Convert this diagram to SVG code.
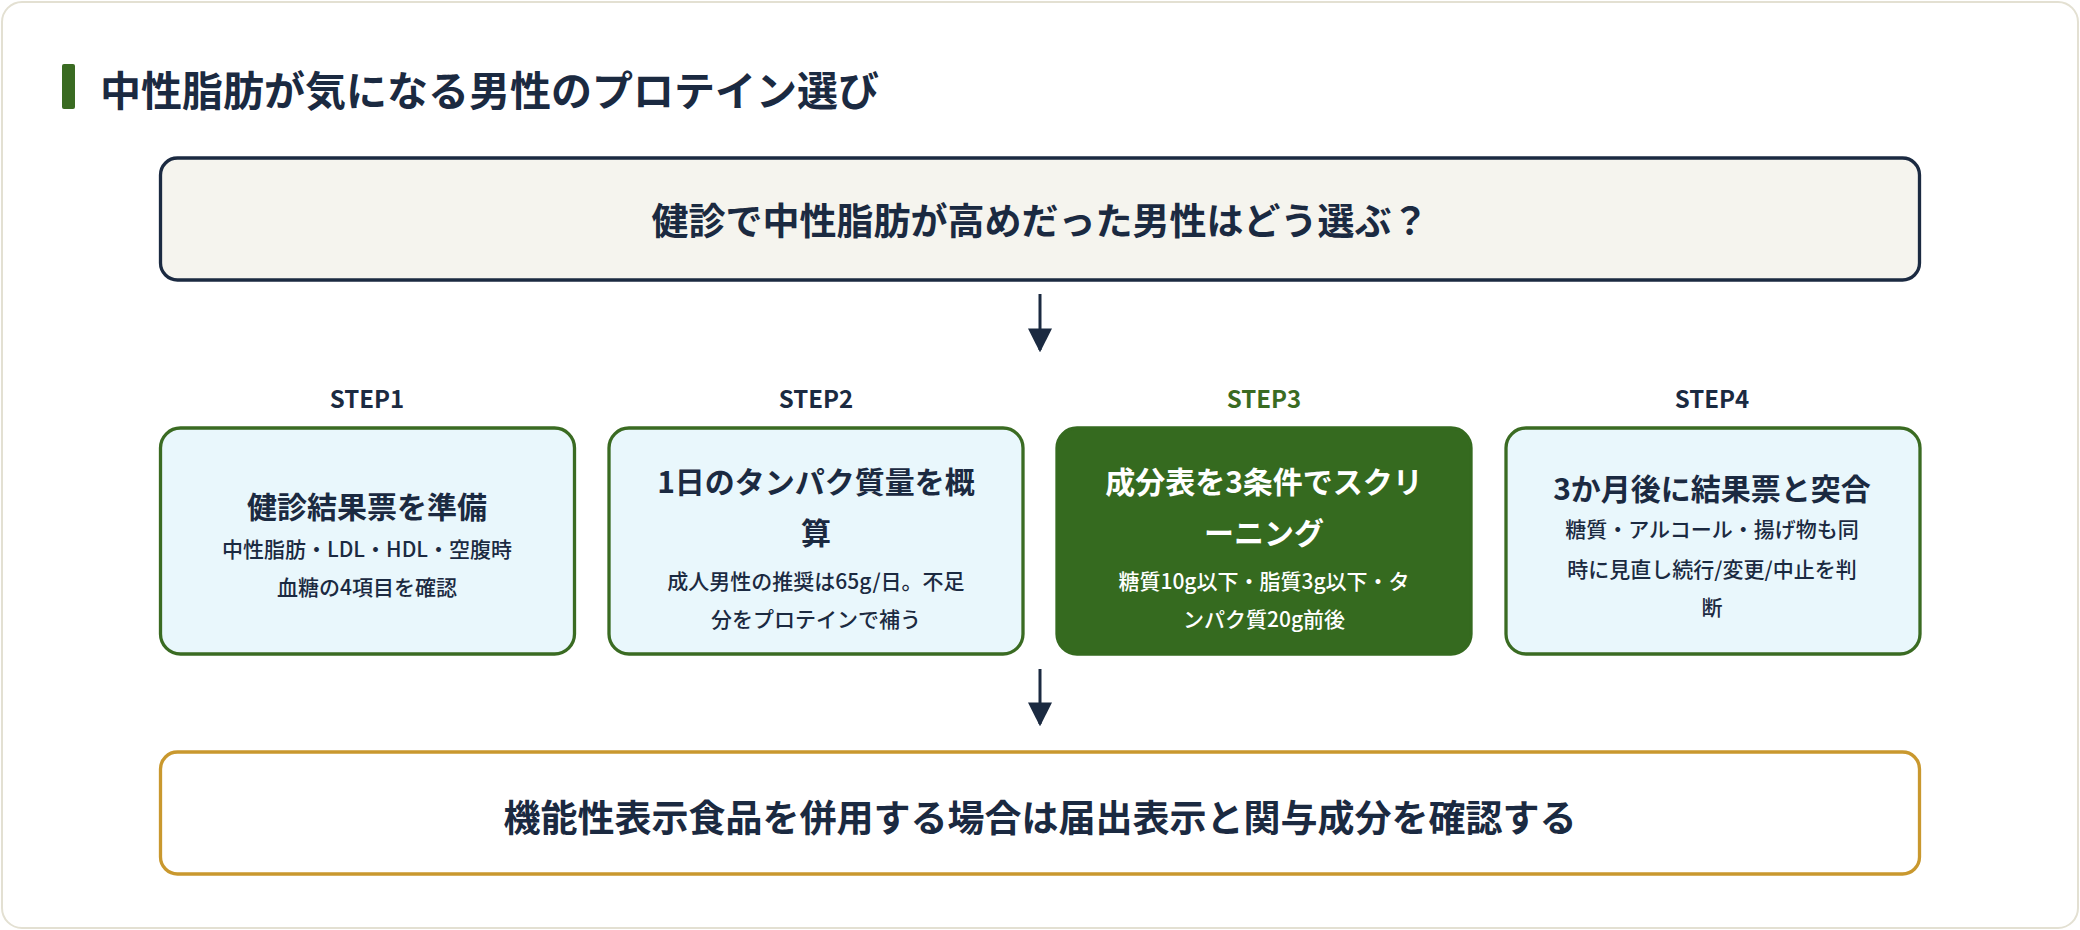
<svg xmlns="http://www.w3.org/2000/svg" width="2080" height="930" viewBox="0 0 2080 930">
<defs>
<style>
text{font-family:"Noto Sans CJK JP","Noto Sans",sans-serif;text-anchor:middle;dominant-baseline:central;fill:#1b2a41}
.t{font-weight:700}
.step{font-size:24px;font-weight:700}
.bt{font-size:30px;font-weight:700}
.bs{font-size:21px;font-weight:500}
.box{fill:#e9f7fc;stroke:#3a6b22;stroke-width:3.3}
.w{fill:#ffffff}
</style>
<marker id="ah" viewBox="0 0 10 10" refX="9" refY="5" markerWidth="9" markerHeight="9" markerUnits="userSpaceOnUse" orient="auto"><path d="M0,0L10,5L0,10z" fill="#1b2a41"/></marker>
<marker id="ah2" viewBox="0 0 10 10" refX="9" refY="5" markerWidth="8" markerHeight="9" orient="auto"><path d="M0,0L10,5L0,10z" fill="#1b2a41"/></marker>
</defs>
<rect x="2" y="2" width="2076" height="926" rx="20" fill="#ffffff" stroke="#e3e0d2" stroke-width="2"/>
<g id="title">
<rect x="62" y="64" width="13" height="45" rx="2" fill="#3a6b22"/>
<text x="100" y="88" class="t" style="text-anchor:start;font-size:41px">中性脂肪が気になる男性のプロテイン選び</text>
</g>
<g id="question">
<rect x="160.5" y="158" width="1759" height="122" rx="17" fill="#f5f4ee" stroke="#1b2a41" stroke-width="3.3"/>
<text x="1040" y="219" class="t" style="font-size:37px">健診で中性脂肪が高めだった男性はどう選ぶ？</text>
</g>
<g id="connectors" stroke="#1b2a41" stroke-width="3">
<line x1="1040" y1="294" x2="1040" y2="350" marker-end="url(#ah2)"/>
<line x1="1040" y1="669" x2="1040" y2="724" marker-end="url(#ah2)"/>
</g>
<g id="step1">
<text x="367" y="397" class="step">STEP1</text>
<rect class="box" x="160.5" y="428" width="414" height="226" rx="20"/>
<text x="367" y="505" class="bt">健診結果票を準備</text>
<text x="367" y="548" class="bs">中性脂肪・LDL・HDL・空腹時</text>
<text x="367" y="586" class="bs">血糖の4項目を確認</text>
</g>
<g id="step2">
<text x="816" y="397" class="step">STEP2</text>
<rect class="box" x="609" y="428" width="414" height="226" rx="20"/>
<text x="816" y="480" class="bt">1日のタンパク質量を概</text>
<text x="816" y="531" class="bt">算</text>
<text x="816" y="580" class="bs">成人男性の推奨は65g/日。不足</text>
<text x="816" y="618" class="bs">分をプロテインで補う</text>
</g>
<g id="step3">
<text x="1264" y="397" class="step" style="fill:#3a6b22">STEP3</text>
<rect x="1057" y="428" width="414" height="226" rx="20" fill="#356a1f" stroke="#356a1f" stroke-width="3.3"/>
<text x="1264" y="480" class="bt w">成分表を3条件でスクリ</text>
<text x="1264" y="531" class="bt w">ーニング</text>
<text x="1264" y="580" class="bs w">糖質10g以下・脂質3g以下・タ</text>
<text x="1264" y="618" class="bs w">ンパク質20g前後</text>
</g>
<g id="step4">
<text x="1712" y="397" class="step">STEP4</text>
<rect class="box" x="1506" y="428" width="414" height="226" rx="20"/>
<text x="1712" y="487" class="bt">3か月後に結果票と突合</text>
<text x="1712" y="528" class="bs">糖質・アルコール・揚げ物も同</text>
<text x="1712" y="568" class="bs">時に見直し続行/変更/中止を判</text>
<text x="1712" y="606" class="bs">断</text>
</g>
<g id="note">
<rect x="160.5" y="752" width="1759" height="122" rx="17" fill="#ffffff" stroke="#c9982e" stroke-width="3.3"/>
<text x="1040" y="816" class="t" style="font-size:37px">機能性表示食品を併用する場合は届出表示と関与成分を確認する</text>
</g>
</svg>
